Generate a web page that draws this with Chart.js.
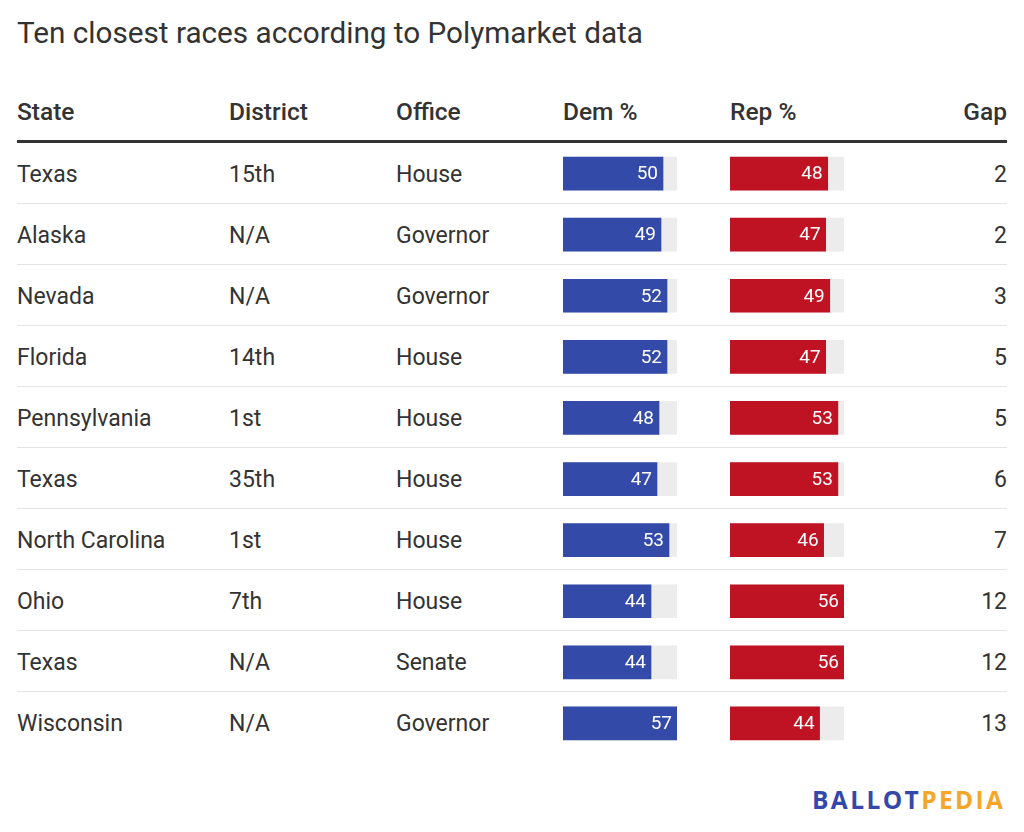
<!DOCTYPE html>
<html>
<head>
<meta charset="utf-8">
<script src="https://cdn.jsdelivr.net/npm/chart.js@4"></script>
<style>
  html, body { margin: 0; padding: 0; background: #fff; }
  body { width: 1024px; height: 832px; position: relative; overflow: hidden; font-family: Roboto, sans-serif; color: #333; }
  .title { position: absolute; left: 17px; top: 13px; font-size: 29.7px; line-height: 40px; color: #333; }
  .hd { position: absolute; top: 95px; font-size: 24.5px; line-height: 34px; font-weight: 500; color: #333; }
  .hline { position: absolute; left: 17px; width: 990px; top: 140px; height: 3px; background: #333; }
  .row { position: absolute; left: 0; width: 1024px; height: 61.1px; }
  .cell { position: absolute; top: 1px; height: 100%; display: flex; align-items: center; font-size: 23px; color: #333; }
  .sep { position: absolute; left: 17px; width: 990px; height: 1px; background: #e3e3e3; }
  .chartbox { position: absolute; top: 142.5px; height: 611px; width: 114px; }
  .logo { position: absolute; left: 812px; top: 785px; font-family: "Open Sans", sans-serif; font-weight: 700; font-size: 24.5px; letter-spacing: 2.4px; line-height: 30px; }
</style>
</head>
<body>
<div class="title">Ten closest races according to Polymarket data</div>
<div id="table"></div>
<div class="chartbox" style="left:563px"><canvas id="demChart"></canvas></div>
<div class="chartbox" style="left:730px"><canvas id="repChart"></canvas></div>
<div class="logo"><span style="color:#3548a9">BALLOT</span><span style="color:#f5a626">PEDIA</span></div>
<script>
// table data
const headers = ['State', 'District', 'Office', 'Dem %', 'Rep %', 'Gap'];
const states = ['Texas', 'Alaska', 'Nevada', 'Florida', 'Pennsylvania', 'Texas', 'North Carolina', 'Ohio', 'Texas', 'Wisconsin'];
const districts = ['15th', 'N/A', 'N/A', '14th', '1st', '35th', '1st', '7th', 'N/A', 'N/A'];
const offices = ['House', 'Governor', 'Governor', 'House', 'House', 'House', 'House', 'House', 'Senate', 'Governor'];
const dem = [50, 49, 52, 52, 48, 47, 53, 44, 44, 57];
const rep = [48, 47, 49, 47, 53, 53, 46, 56, 56, 44];
const gap = [2, 2, 3, 5, 5, 6, 7, 12, 12, 13];

const colX = [17, 229, 396, 563, 730];
const rowTop = 142.5;
const rowH = 61.1;

const table = document.getElementById('table');
let html = '';
headers.forEach((h, i) => {
  if (i < 5) html += `<div class="hd" style="left:${colX[i]}px">${h}</div>`;
  else html += `<div class="hd" style="right:17px">${h}</div>`;
});
html += '<div class="hline"></div>';
for (let i = 0; i < states.length; i++) {
  const top = rowTop + rowH * i;
  html += `<div class="row" style="top:${top}px">
    <div class="cell" style="left:${colX[0]}px">${states[i]}</div>
    <div class="cell" style="left:${colX[1]}px">${districts[i]}</div>
    <div class="cell" style="left:${colX[2]}px">${offices[i]}</div>
    <div class="cell" style="right:17px">${gap[i]}</div>
  </div>`;
  if (i < states.length - 1) html += `<div class="sep" style="top:${top + rowH - 1}px"></div>`;
}
table.innerHTML = html;

// value labels inside the bars
const barLabels = {
  id: 'barLabels',
  afterDatasetsDraw(chart) {
    const c = chart.ctx;
    const meta = chart.getDatasetMeta(0);
    c.save();
    c.font = '19px Roboto';
    c.fillStyle = '#fff';
    c.textAlign = 'right';
    c.textBaseline = 'middle';
    meta.data.forEach((bar, i) => {
      c.fillText(chart.data.datasets[0].data[i], bar.x - 5, bar.y + 1);
    });
    c.restore();
  }
};

function barChart(id, values, color) {
  const top = Math.max(...values);
  return new Chart(document.getElementById(id), {
    type: 'bar',
    data: {
      labels: states.map((s, i) => i),
      datasets: [
        { data: values, backgroundColor: color, grouped: false, order: 0, barThickness: 33 },
        { data: values.map(() => top), backgroundColor: '#ececec', grouped: false, order: 1, barThickness: 33 }
      ]
    },
    options: {
      indexAxis: 'y',
      responsive: true,
      maintainAspectRatio: false,
      animation: false,
      events: [],
      layout: { padding: 0 },
      plugins: { legend: { display: false }, tooltip: { enabled: false } },
      scales: {
        x: { display: false, min: 0, max: top },
        y: { display: false }
      }
    },
    plugins: [barLabels]
  });
}

barChart('demChart', dem, '#334aa9');
barChart('repChart', rep, '#bf1222');
</script>
</body>
</html>
